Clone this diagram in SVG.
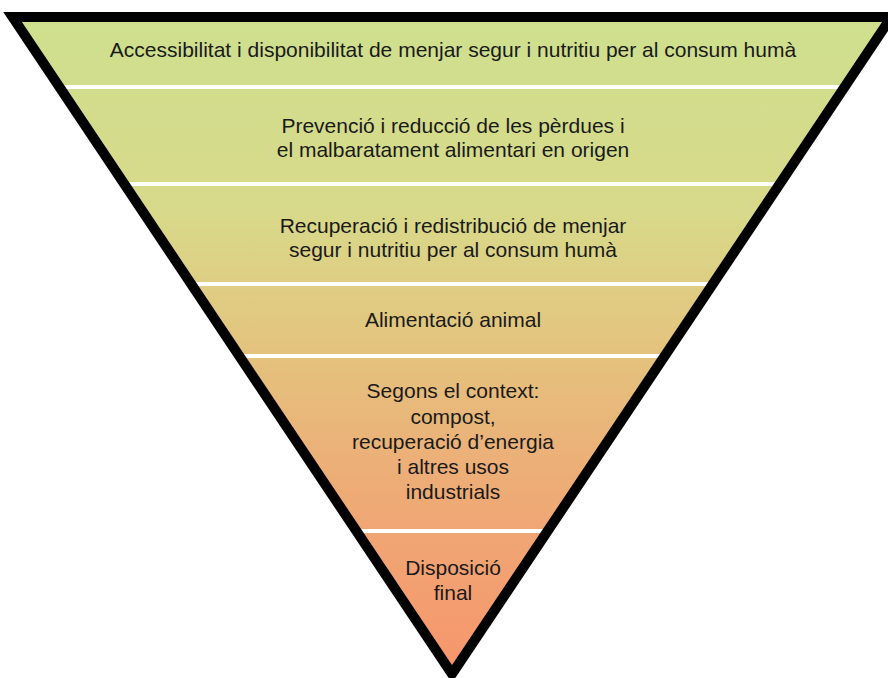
<svg xmlns="http://www.w3.org/2000/svg" width="888" height="678" viewBox="0 0 888 678">
  <defs>
    <linearGradient id="grad" gradientUnits="userSpaceOnUse" x1="0" y1="17" x2="0" y2="674">
      <stop offset="0" stop-color="#CEE08E"/>
      <stop offset="0.3" stop-color="#D8D98A"/>
      <stop offset="0.47" stop-color="#E2C77F"/>
      <stop offset="0.7" stop-color="#EDAD77"/>
      <stop offset="1" stop-color="#F7956C"/>
    </linearGradient>
    <clipPath id="tri">
      <polygon points="12.6,17 891.4,17 452,674"/>
    </clipPath>
    <style>
      .lbl { font-family: "Liberation Sans", Arial, sans-serif; font-size: 21px; fill: #1a1a1a; text-anchor: middle; }
      .sep { stroke: #ffffff; stroke-width: 4; }
      .outline { fill: none; stroke: #000000; stroke-width: 10; stroke-linejoin: miter; stroke-miterlimit: 10; }
    </style>
  </defs>

  <g id="fill">
    <polygon points="12.6,17 891.4,17 452,674" fill="url(#grad)"/>
  </g>

  <g id="separators" clip-path="url(#tri)">
    <line class="sep" x1="0" y1="87" x2="888" y2="87"/>
    <line class="sep" x1="0" y1="184" x2="888" y2="184"/>
    <line class="sep" x1="0" y1="284" x2="888" y2="284"/>
    <line class="sep" x1="0" y1="356" x2="888" y2="356"/>
    <line class="sep" x1="0" y1="531" x2="888" y2="531"/>
  </g>

  <g id="level1">
    <text class="lbl" x="453" y="57">Accessibilitat i disponibilitat de menjar segur i nutritiu per al consum humà</text>
  </g>
  <g id="level2">
    <text class="lbl" x="453" y="133">Prevenció i reducció de les pèrdues i</text>
    <text class="lbl" x="453" y="157">el malbaratament alimentari en origen</text>
  </g>
  <g id="level3">
    <text class="lbl" x="453" y="233">Recuperació i redistribució de menjar</text>
    <text class="lbl" x="453" y="257">segur i nutritiu per al consum humà</text>
  </g>
  <g id="level4">
    <text class="lbl" x="453" y="327">Alimentació animal</text>
  </g>
  <g id="level5">
    <text class="lbl" x="453" y="398">Segons el context:</text>
    <text class="lbl" x="453" y="424">compost,</text>
    <text class="lbl" x="453" y="449">recuperació d’energia</text>
    <text class="lbl" x="453" y="474">i altres usos</text>
    <text class="lbl" x="453" y="499">industrials</text>
  </g>
  <g id="level6">
    <text class="lbl" x="453" y="575">Disposició</text>
    <text class="lbl" x="453" y="600">final</text>
  </g>

  <g id="outline">
    <polygon class="outline" points="12.6,17 891.4,17 452,674"/>
  </g>
</svg>
